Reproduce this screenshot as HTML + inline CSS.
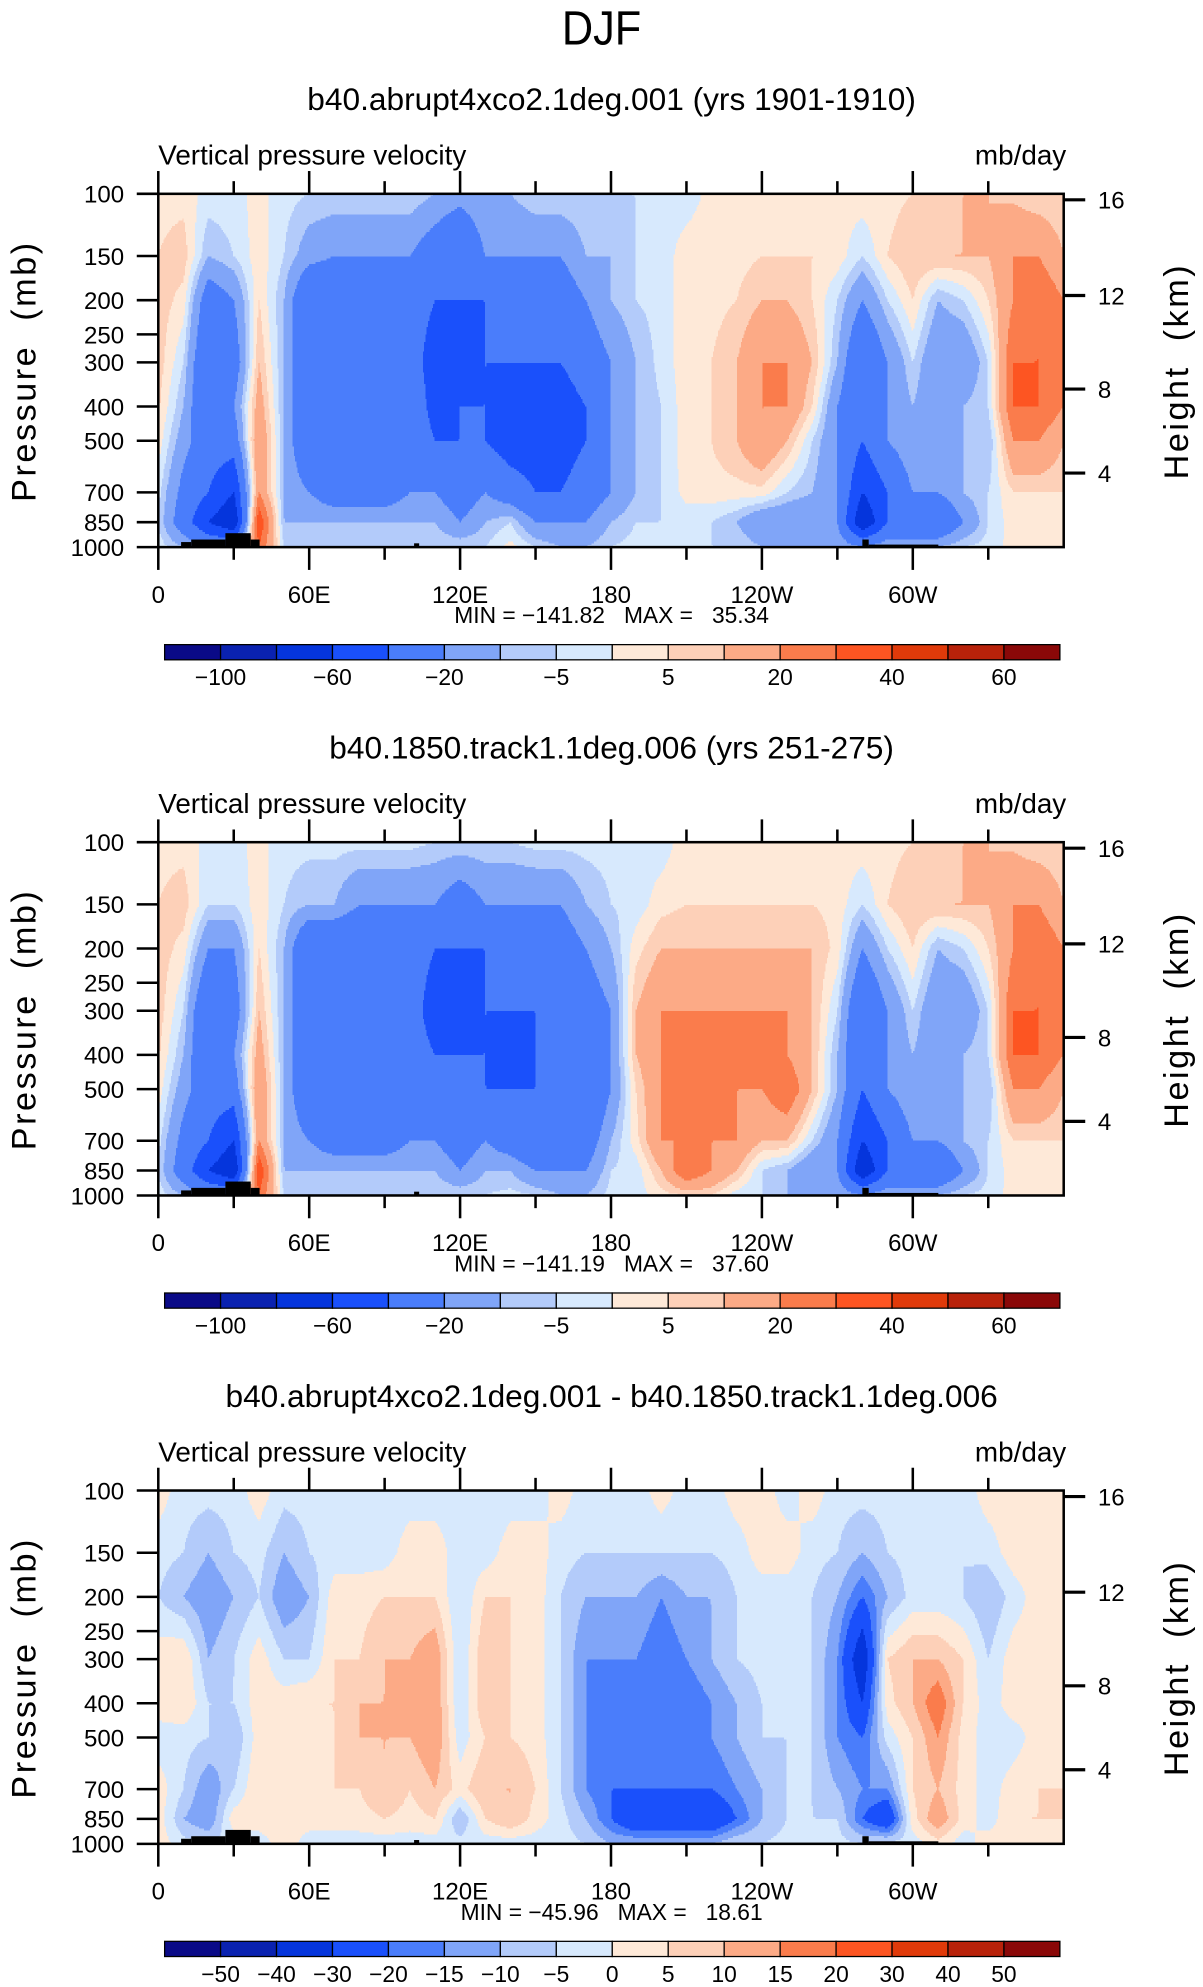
<!DOCTYPE html>
<html><head><meta charset="utf-8"><style>
html,body{margin:0;padding:0;background:#fff;overflow:hidden;}
svg{display:block;}
text{font-family:"Liberation Sans",sans-serif;fill:#000;}
</style></head><body>
<svg id="fig" xmlns="http://www.w3.org/2000/svg" width="1203" height="1987" viewBox="0 0 950 1569">
<text x="475" y="35" font-size="38" text-anchor="middle" transform="translate(475,0) scale(0.9,1) translate(-475,0)">DJF</text>
</svg>
<script>
// ---- data ----
const lons = [0,10,20,30,40,50,60,70,80,90,100,110,120,130,140,150,160,170,180,190,200,210,220,230,240,250,260,270,280,290,300,310,320,330,340,350,360];
const levels = [100,150,200,300,400,500,700,850,1000];
const xTickLabels = ["0","60E","120E","180","120W","60W"];
const xTickLons = [0,60,120,180,240,300];
const pTicks = [100,150,200,250,300,400,500,700,850,1000];
const hTicks = [4,8,12,16];
const hTickPress = [617,357,194,104];
const titles = ["b40.abrupt4xco2.1deg.001 (yrs 1901-1910)","b40.1850.track1.1deg.006 (yrs 251-275)","b40.abrupt4xco2.1deg.001 - b40.1850.track1.1deg.006"];
const minVals = ["-141.82","-141.19","-45.96"];
const maxVals = ["35.34","37.60","18.61"];
const levAbs = [-100,-80,-60,-40,-20,-10,-5,0,5,10,20,30,40,50,60];
const levDiff = [-50,-40,-30,-20,-15,-10,-5,0,5,10,15,20,30,40,50];
const labAbs = ["-100","","-60","","-20","","-5","","5","","20","","40","","60"];
const labDiff = levDiff.map(String);
const colors = ['#0a0a87','#0a22b0','#0535dc','#1a50fb','#4a7dfb','#80a5f8','#b3cbfa','#d7e9fd','#fee9d8','#fdd0b8','#fcaa86','#fa7c4c','#fd5522','#e03a0a','#b8220a','#8a0808'];

const field1 = [
[3,5,8,8,6,3,-3,-5,-2],[3,8,3,-5,-10,-15,-25,-30,-10],[-2,-10,-30,-40,-40,-30,-40,-60,-20],[-2,-5,-20,-30,-20,-30,-60,-80,-20],
[2,3,5,10,15,20,20,40,30],[-3,-5,-10,-10,-10,-10,-10,-10,-5],[-5,-15,-40,-40,-40,-40,-20,-10,-5],[-5,-20,-40,-40,-40,-40,-30,-10,-5],
[-5,-20,-40,-40,-40,-40,-30,-10,-5],[-5,-20,-40,-40,-40,-40,-30,-10,-5],[-5,-20,-30,-30,-20,-20,-20,-10,-5],[-10,-30,-40,-50,-50,-40,-20,-10,-5],
[-15,-40,-40,-50,-40,-40,-30,-20,-5],[-10,-20,-40,-40,-40,-40,-20,-10,-5],[-10,-20,-40,-40,-50,-50,-30,-5,2],[-5,-20,-30,-40,-50,-50,-40,-20,-5],
[-5,-20,-30,-40,-50,-50,-40,-20,-10],[-5,-10,-20,-30,-40,-40,-30,-20,-10],[-5,-10,-10,-20,-20,-20,-20,-10,-5],[-5,-5,-5,-10,-10,-10,-10,-5,-3],
[-3,-3,-3,-3,-5,-5,-5,-5,-3],[-3,3,3,3,3,3,2,-3,-3],[2,3,3,5,5,5,3,-5,-5],[2,3,5,10,10,10,3,-10,-5],
[2,5,10,20,20,20,3,-20,-10],[2,5,10,20,20,10,-5,-20,-10],[2,5,5,10,5,-5,-10,-20,-10],[2,3,-5,-10,-20,-20,-20,-20,-10],
[3,-5,-20,-40,-40,-40,-60,-80,-20],[3,5,-5,-20,-20,-20,-40,-40,-10],[5,10,5,-5,-10,-10,-20,-40,-10],[5,10,-10,-20,-20,-20,-20,-40,-10],
[10,10,-5,-20,-10,-10,-10,-20,-5],[10,10,5,-5,-5,-10,-5,-5,-3],[8,20,20,30,30,20,5,3,2],[5,20,30,30,30,20,5,3,3],
[5,10,20,20,20,10,5,3,3]];
const field2 = [
[3,5,8,8,6,3,-3,-5,-2],[3,8,3,-5,-10,-15,-25,-30,-10],[-2,-5,-20,-40,-40,-30,-40,-60,-20],[-2,-5,-20,-30,-20,-30,-60,-80,-20],
[2,3,5,10,15,20,20,40,30],[-3,-5,-10,-10,-10,-10,-10,-10,-5],[-3,-10,-40,-40,-40,-40,-20,-10,-5],[-3,-10,-40,-40,-40,-40,-30,-10,-5],
[-3,-20,-40,-40,-40,-40,-30,-10,-5],[-3,-20,-40,-40,-40,-40,-30,-10,-5],[-3,-20,-30,-30,-30,-30,-20,-10,-5],[-5,-20,-40,-50,-40,-40,-20,-10,-5],
[-5,-30,-40,-50,-40,-40,-30,-20,-5],[-5,-20,-40,-40,-40,-40,-20,-10,-5],[-5,-20,-40,-40,-50,-40,-30,-10,-3],[-3,-20,-40,-40,-40,-40,-40,-20,-5],
[-3,-20,-30,-40,-40,-40,-40,-20,-10],[-3,-10,-20,-30,-40,-40,-30,-20,-10],[-3,-5,-10,-20,-20,-20,-10,-5,-3],[-3,-3,3,10,10,5,3,-3,-3],
[-3,3,10,20,20,20,20,10,3],[3,5,10,20,20,20,20,30,5],[3,5,10,20,20,20,20,20,5],[3,5,10,20,20,20,20,10,-3],
[3,5,10,20,20,20,10,-5,-5],[3,5,10,20,20,30,10,-10,-10],[3,5,10,10,10,10,-5,-20,-10],[3,3,3,-5,-10,-10,-20,-20,-10],
[3,-5,-20,-40,-40,-40,-60,-80,-20],[3,5,-5,-20,-20,-20,-40,-40,-10],[5,10,5,-5,-10,-10,-20,-40,-10],[5,10,-10,-20,-20,-20,-20,-40,-10],
[10,10,-5,-20,-10,-10,-10,-20,-5],[10,10,5,-5,-5,-10,-5,-5,-3],[8,20,20,30,30,20,5,3,2],[5,20,30,30,30,20,5,3,3],
[5,10,20,20,20,10,5,3,3]];
const field3 = [
[3,-3,-5,3,3,-3,3,3,3],[-3,-5,-10,5,5,-3,-5,-10,-3],[-3,-10,-15,-10,-5,-5,-15,-15,-5],[-3,-5,-10,-5,-5,-10,-5,3,-3],
[3,-3,-5,3,3,3,5,3,-3],[-3,-10,-15,-5,3,3,5,3,3],[-3,-5,-10,-5,5,3,3,3,-3],[-3,-3,3,5,5,5,5,3,-3],
[-3,-3,3,5,10,10,5,3,-3],[-3,-3,5,10,10,10,10,5,-3],[-3,3,5,10,10,10,5,3,-3],[-3,3,5,15,15,15,10,5,-3],
[-3,-3,-5,-5,-5,-3,3,-10,-3],[-5,-3,5,10,10,5,10,5,-3],[-3,3,5,5,5,5,10,10,-3],[-3,3,3,3,3,3,5,3,-3],
[3,-3,-5,-5,-5,-5,-5,-3,-3],[-3,-5,-10,-15,-15,-15,-15,-10,-5],[-3,-5,-10,-15,-20,-20,-20,-20,-10],[-3,-5,-10,-15,-20,-20,-20,-30,-10],
[3,-5,-15,-20,-20,-20,-20,-30,-10],[-3,-5,-10,-15,-20,-20,-20,-30,-10],[-3,-5,-10,-10,-15,-15,-20,-30,-10],[3,-3,-5,-5,-10,-10,-15,-20,-5],
[3,3,-3,-3,-5,-5,-10,-10,-5],[-3,3,-3,-3,-3,-5,-5,-5,-3],[3,-3,-5,-5,-5,-5,-5,-5,-3],[-3,-5,-10,-15,-15,-15,-10,-5,-3],
[-3,-10,-20,-40,-30,-20,-15,-20,-5],[-3,-5,-10,5,3,-3,-15,-30,-3],[-3,-3,-3,10,10,5,5,3,-3],[-3,-3,-3,10,20,15,10,15,3],
[-3,-5,-5,5,5,3,3,3,-3],[3,-3,-10,-5,-3,-3,-3,-3,3],[3,3,-3,3,3,-3,3,5,3],[3,3,3,3,3,3,5,5,3],
[3,3,3,3,3,3,5,5,3]];

const fields = [field1, field2, field3];
const levSets = [levAbs, levAbs, levDiff];
const labSets = [labAbs, labAbs, labDiff];

const NS = "http://www.w3.org/2000/svg";
const svg = document.getElementById('fig');
const PX0 = 125, PX1 = 840, PH = 279;
function mk(tag, attrs, parent){ const e=document.createElementNS(NS,tag); for(const k in attrs) e.setAttribute(k,attrs[k]); (parent||svg).appendChild(e); return e; }
function xScale(lon){ return PX0 + (lon/360)*(PX1-PX0); }
function yScale(p, top){ return top + PH - Math.log10(1000/p)*PH; }
function classify(v, lv){ v=v+0.013; let i=0; while(i<lv.length && v>=lv[i]) i++; return i; }
const LL = levels.map(p=>Math.log10(p));
function sample(F, lon, lp){
  let i=Math.min(Math.floor(lon/10), lons.length-2); const tx=(lon-lons[i])/10;
  let j=0; while(j<levels.length-2 && lp>LL[j+1]) j++;
  const ty=Math.max(0,Math.min(1,(lp-LL[j])/(LL[j+1]-LL[j])));
  const a=F[i][j]*(1-tx)+F[i+1][j]*tx, b=F[i][j+1]*(1-tx)+F[i+1][j+1]*tx;
  return a*(1-ty)+b*ty;
}

for(let k=0;k<3;k++){
  const off = k*512;
  const top = 153+off, bot = top+PH;
  const g = mk('g',{});
  
  
  const t = mk('text',{x:483,y:87+off,'font-size':25,'text-anchor':'middle'},g); t.textContent=titles[k];
  
  
  const t1 = mk('text',{x:125,y:130+off,'font-size':22},g); t1.textContent='Vertical pressure velocity';
  
  
  const t2 = mk('text',{x:842,y:130+off,'font-size':22,'text-anchor':'end'},g); t2.textContent='mb/day';
  
  
  const fg = mk('g',{'shape-rendering':'crispEdges'},g);
  
  
  const F = fields[k], lv = levSets[k];
  const dy=1.5, dx=1;
  for(let y=top; y<bot; y+=dy){
    const lp = Math.log10(1000) - (bot-(y+dy/2))/PH;
    let runStart=PX0, runC=-1;
    for(let x=PX0; x<=PX1; x+=dx){
      let c=-2;
      if(x<PX1){ const lon=(x+dx/2-PX0)/(PX1-PX0)*360; c=classify(sample(F,lon,lp),lv); }
      if(c!==runC){
        if(runC>=0){ const r=mk('rect',{x:runStart,y:y,width:x-runStart+0.3,height:Math.min(dy+0.3,bot-y),fill:colors[runC]},fg);
          
           }
        runStart=x; runC=c;
      }
    }
  }
  const topo=[[143,151,428],[151,178,426],[178,198,421],[198,205,426],[327,331,429],[681,686,426],[686,741,430]];
  topo.forEach(tp=>{ const r=mk('rect',{x:tp[0],y:tp[2]+off,width:tp[1]-tp[0],height:432-tp[2],fill:'#000'},g);
    
     });
  const fr=mk('rect',{x:PX0,y:top,width:PX1-PX0,height:PH,fill:'none',stroke:'#000','stroke-width':2},g);
  
  
  for(let lon=0; lon<=330; lon+=30){
    const x=xScale(lon), major=lon%60===0, L=major?18:10;
    mk('line',{x1:x,x2:x,y1:top,y2:top-L,stroke:'#000','stroke-width':2},g);
    mk('line',{x1:x,x2:x,y1:bot,y2:bot+L,stroke:'#000','stroke-width':2},g);
  }
  xTickLabels.forEach((lab,i)=>{ const tx=mk('text',{x:xScale(xTickLons[i]),y:476+off,'font-size':19,'text-anchor':'middle'},g); tx.textContent=lab;
    
     });
  const mm=mk('text',{x:483,y:492+off,'font-size':18,'text-anchor':'middle',style:'white-space:pre'},g);
  mm.textContent='MIN = '+minVals[k].replace('-','\u2212')+'   MAX =   '+maxVals[k];
  
  
  pTicks.forEach(p=>{ const y=yScale(p,top); mk('line',{x1:PX0,x2:PX0-17,y1:y,y2:y,stroke:'#000','stroke-width':2},g);
    const tx=mk('text',{x:98,y:y+7,'font-size':19,'text-anchor':'end'},g); tx.textContent=p;
    
     });
  hTicks.forEach((h,i)=>{ const y=yScale(hTickPress[i],top); mk('line',{x1:PX1,x2:PX1+17,y1:y,y2:y,stroke:'#000','stroke-width':2.5},g);
    const tx=mk('text',{x:867,y:y+7,'font-size':19},g); tx.textContent=h;
    
     });
  const yl=mk('text',{x:0,y:0,'font-size':27,'text-anchor':'middle',transform:`translate(28,${293+off}) rotate(-90)`,'letter-spacing':2,style:'white-space:pre'},g); yl.textContent='Pressure  (mb)';
  
  
  const yr=mk('text',{x:0,y:0,'font-size':27,'text-anchor':'middle',transform:`translate(938,${293+off}) rotate(-90)`,'letter-spacing':2,style:'white-space:pre'},g); yr.textContent='Height  (km)';
  
  
  const cb=mk('g',{},g);
  
  
  const cx0=130, cx1=837, cw=(cx1-cx0)/16, cy=509+off;
  colors.forEach((c,i)=>{ const r=mk('rect',{x:cx0+i*cw,y:cy,width:cw,height:12,fill:c,stroke:'#000','stroke-width':1},cb);
    
     });
  labSets[k].forEach((lab,i)=>{ if(!lab) return; const tx=mk('text',{x:cx0+(i+1)*cw,y:541+off,'font-size':18,'text-anchor':'middle'},cb); tx.textContent=lab.replace('-','\u2212');
    
     });
}
</script>
</body></html>
